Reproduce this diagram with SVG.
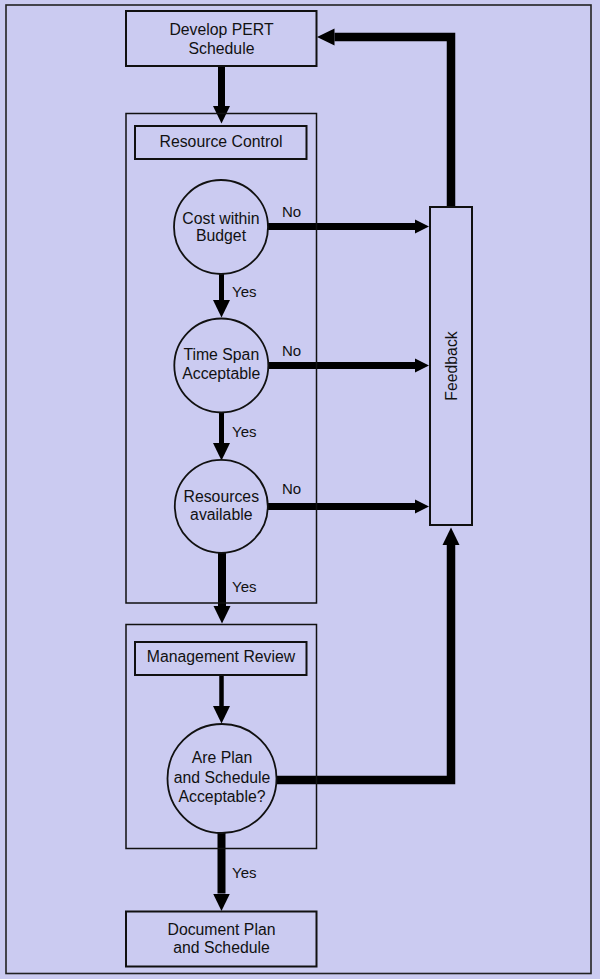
<svg xmlns="http://www.w3.org/2000/svg" width="600" height="979" viewBox="0 0 600 979">
<defs>
<style>
text{font-family:"Liberation Sans",Arial,sans-serif;fill:#111;}
.lbl{font-size:15.8px;text-anchor:middle;}
.yn{font-size:15px;}
.box{fill:none;stroke:#111;stroke-width:2;}
.cont{fill:none;stroke:#111;stroke-width:1.5;}
.circ{fill:none;stroke:#111;stroke-width:1.8;}
.conn{fill:none;stroke:#000;stroke-linejoin:miter;stroke-linecap:butt;}
</style>
<marker id="ah" markerUnits="userSpaceOnUse" markerWidth="18" markerHeight="18" refX="0" refY="8.5" orient="auto" viewBox="0 0 18 17">
<path d="M0,0 L17.5,8.5 L0,17 z" fill="#000"/>
</marker>
<marker id="ahs" markerUnits="userSpaceOnUse" markerWidth="15" markerHeight="15" refX="0" refY="7" orient="auto" viewBox="0 0 15 14">
<path d="M0,0 L14,7 L0,14 z" fill="#000"/>
</marker>
</defs>
<rect x="0" y="0" width="600" height="979" fill="#CBCBF1"/>
<rect x="6" y="5" width="585" height="968.5" fill="none" stroke="#222" stroke-width="1.6"/>

<g id="connectors">
<path class="conn" d="M221.5,66 V106" stroke-width="7" marker-end="url(#ah)"/>
<path class="conn" d="M221.5,274 V300" stroke-width="5" marker-end="url(#ah)"/>
<path class="conn" d="M221.5,413 V443" stroke-width="5" marker-end="url(#ah)"/>
<path class="conn" d="M222,553 V606" stroke-width="8" marker-end="url(#ah)"/>
<path class="conn" d="M221.5,676 V706" stroke-width="4.5" marker-end="url(#ah)"/>
<path class="conn" d="M221.5,833 V893.5" stroke-width="8" marker-end="url(#ah)"/>
<path class="conn" d="M268,226.5 H415" stroke-width="7" marker-end="url(#ahs)"/>
<path class="conn" d="M268,365.5 H415" stroke-width="7" marker-end="url(#ahs)"/>
<path class="conn" d="M268,506.5 H415" stroke-width="7" marker-end="url(#ahs)"/>
<path class="conn" d="M276.5,780 H451 V545" stroke-width="8.5" marker-end="url(#ah)"/>
<path class="conn" d="M451,207 V37 H334.5" stroke-width="8.5" marker-end="url(#ah)"/>
<text class="yn" x="282" y="217">No</text>
<text class="yn" x="282" y="356">No</text>
<text class="yn" x="282" y="494">No</text>
<text class="yn" x="232" y="297">Yes</text>
<text class="yn" x="232" y="436.5">Yes</text>
<text class="yn" x="232" y="591.5">Yes</text>
<text class="yn" x="232" y="877.5">Yes</text>
</g>

<g id="develop-pert">
<rect class="box" x="126" y="11" width="190.5" height="55"/>
<text class="lbl" x="221.5" y="35">Develop PERT</text>
<text class="lbl" x="221.5" y="53.5">Schedule</text>
</g>

<g id="resource-control-group">
<rect class="cont" x="126" y="113.5" width="190.5" height="489.5"/>
</g>

<g id="resource-control">
<rect class="box" x="135" y="126" width="171.5" height="33"/>
<text class="lbl" x="221" y="147">Resource Control</text>
</g>

<g id="cost-within-budget">
<circle class="circ" cx="221" cy="227" r="47"/>
<text class="lbl" x="221" y="223.5">Cost within</text>
<text class="lbl" x="221" y="241">Budget</text>
</g>

<g id="time-span">
<circle class="circ" cx="221.3" cy="365.5" r="47"/>
<text class="lbl" x="221.3" y="360">Time Span</text>
<text class="lbl" x="221.3" y="378.5">Acceptable</text>
</g>

<g id="resources-available">
<circle class="circ" cx="221.3" cy="506.3" r="46.5"/>
<text class="lbl" x="221.3" y="501.7">Resources</text>
<text class="lbl" x="221.3" y="520">available</text>
</g>

<g id="feedback">
<rect class="box" x="430" y="207" width="42" height="318"/>
<text class="lbl" transform="translate(456.5,366) rotate(-90)">Feedback</text>
</g>

<g id="management-review-group">
<rect class="cont" x="126" y="624.5" width="190.5" height="224"/>
</g>

<g id="management-review">
<rect class="box" x="135" y="642" width="171.5" height="33"/>
<text class="lbl" x="221" y="662">Management Review</text>
</g>

<g id="plan-acceptable">
<circle class="circ" cx="222" cy="778.5" r="54.5"/>
<text class="lbl" x="222" y="763">Are Plan</text>
<text class="lbl" x="222" y="782.5">and Schedule</text>
<text class="lbl" x="222" y="802">Acceptable?</text>
</g>

<g id="document-plan">
<rect class="box" x="126" y="911.5" width="190.5" height="55"/>
<text class="lbl" x="221.5" y="935">Document Plan</text>
<text class="lbl" x="221.5" y="952.5">and Schedule</text>
</g>
</svg>
